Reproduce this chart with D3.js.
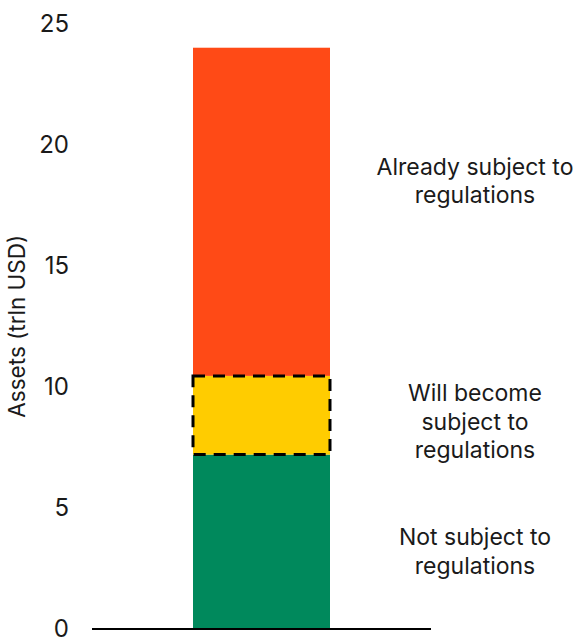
<!DOCTYPE html>
<html>
<head>
<meta charset="utf-8">
<script src="https://cdn.jsdelivr.net/npm/d3@7"></script>
<style>
  html, body { margin: 0; padding: 0; background: #fff; }
  svg { display: block; }
  text { font-family: Inter, "Noto Sans", sans-serif; fill: #1a1a1a; }
</style>
</head>
<body>
<svg id="chart" width="581" height="637"></svg>
<script>
// ---- data ----
const categories = ["Assets"];
const segments = ["Not subject to regulations", "Will become subject to regulations", "Already subject to regulations"];
const segmentValues = [7.2, 3.25, 13.55];
const segmentColors = ["#00895C", "#FFCC00", "#FF4A16"];
const labelLines = [
  ["Not subject to", "regulations"],
  ["Will become", "subject to", "regulations"],
  ["Already subject to", "regulations"]
];
const labelCenters = [3.2, 8.55, 18.5];
const yTicks = [0, 5, 10, 15, 20, 25];
const yTitle = "Assets (trln USD)";

// ---- layout ----
const svg = d3.select("#chart");
const y = d3.scaleLinear().domain([0, 25]).range([629, 23.5]);
const x = d3.scaleBand().domain(categories).range([92, 431]).padding(0.4244);

// stacked segments
let acc = 0;
const stacked = segmentValues.map((v, i) => {
  const d = { key: segments[i], y0: acc, y1: acc + v, color: segmentColors[i], i };
  acc += v;
  return d;
});

svg.append("g").selectAll("rect").data(stacked).join("rect")
  .attr("x", x(categories[0]))
  .attr("width", x.bandwidth())
  .attr("y", d => y(d.y1))
  .attr("height", d => y(d.y0) - y(d.y1))
  .attr("fill", d => d.color);

// dashed outline on the "will become" segment
const mid = stacked[1];
svg.append("rect")
  .attr("x", x(categories[0]))
  .attr("width", x.bandwidth())
  .attr("y", y(mid.y1))
  .attr("height", y(mid.y0) - y(mid.y1))
  .attr("fill", "none")
  .attr("stroke", "#000")
  .attr("stroke-width", 3)
  .attr("stroke-dasharray", "12,8");

// baseline
svg.append("line")
  .attr("x1", 92).attr("x2", 431)
  .attr("y1", y(0)).attr("y2", y(0))
  .attr("stroke", "#000").attr("stroke-width", 2);

// y axis (labels only)
const yAxis = d3.axisLeft(y).tickValues(yTicks).tickSize(0).tickPadding(0);
const gy = svg.append("g").attr("transform", "translate(69,0)").call(yAxis);
gy.select(".domain").remove();
gy.selectAll("text").style("font-size", "24px").attr("fill", "#1a1a1a")
  .style("font-family", 'Inter, "Noto Sans", sans-serif');

// y title
svg.append("text")
  .attr("transform", `translate(17,${(y(0) + y(25)) / 2}) rotate(-90)`)
  .attr("text-anchor", "middle")
  .attr("dy", "0.35em")
  .style("font-size", "22.5px")
  .text(yTitle);

// segment labels
const lineH = 28.5;
labelLines.forEach((lines, i) => {
  const cy = y(labelCenters[i]);
  const t = svg.append("text")
    .attr("text-anchor", "middle")
    .style("font-size", "23px");
  lines.forEach((ln, j) => {
    t.append("tspan")
      .attr("x", 475)
      .attr("y", cy + (j - (lines.length - 1) / 2) * lineH)
      .attr("dy", "0.35em")
      .text(ln);
  });
});
</script>
</body>
</html>
